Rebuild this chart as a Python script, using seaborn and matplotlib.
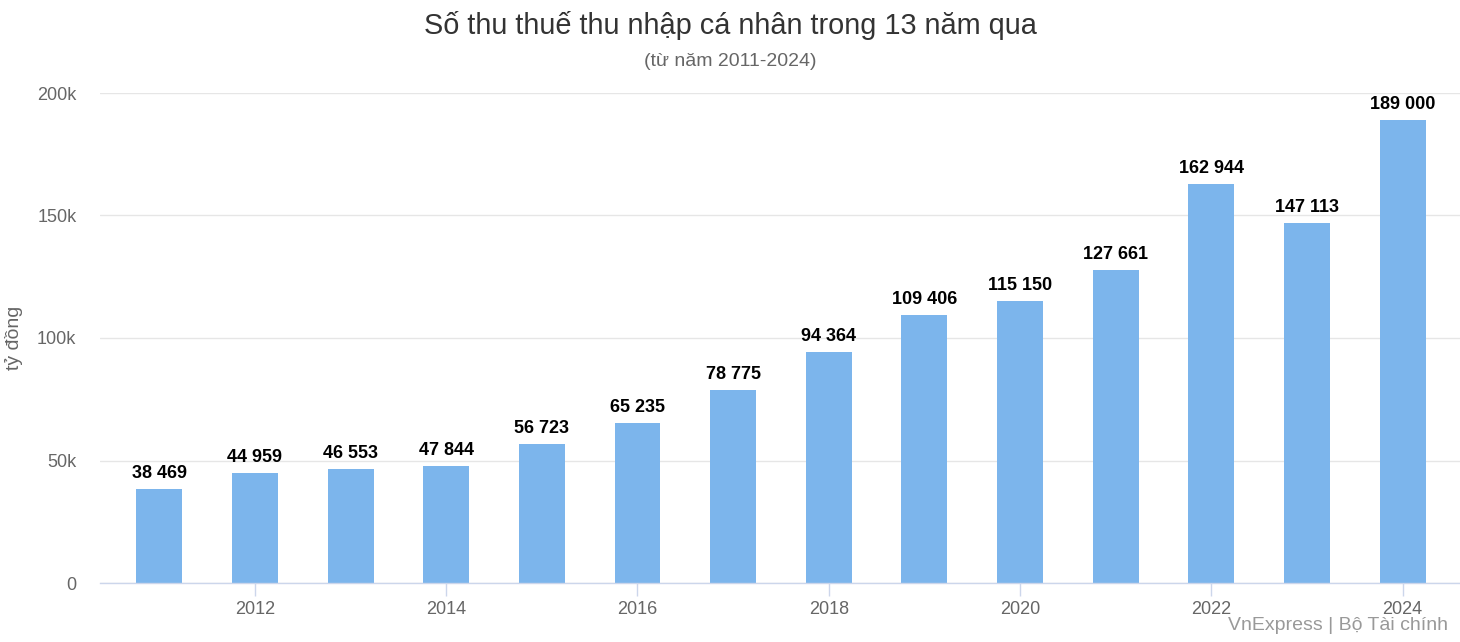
import matplotlib
matplotlib.use("Agg")
import matplotlib.pyplot as plt
import seaborn as sns
import pandas as pd

# Du lieu: so thu thue TNCN (ty dong)
years = [2011, 2012, 2013, 2014, 2015, 2016, 2017, 2018, 2019, 2020, 2021, 2022, 2023, 2024]
values = [38469, 44959, 46553, 47844, 56723, 65235, 78775, 94364,
          109406, 115150, 127661, 162944, 147113, 189000]
labels = ["38 469", "44 959", "46 553", "47 844", "56 723", "65 235", "78 775",
          "94 364", "109 406", "115 150", "127 661", "162 944", "147 113", "189 000"]
y_ticks = [0, 50000, 100000, 150000, 200000]
y_ticklabels = ["0", "50k", "100k", "150k", "200k"]
x_ticks = [2012, 2014, 2016, 2018, 2020, 2022, 2024]

df = pd.DataFrame({"year": years, "value": values})

sns.set_theme(style="white")
plt.rcParams["font.family"] = ["Liberation Sans", "DejaVu Sans"]

fig = plt.figure(figsize=(14.6, 6.42), dpi=100)
ax = fig.add_axes([100 / 1460, 1 - 583 / 642, 1360 / 1460, 490 / 642])

sns.barplot(data=df, x="year", y="value", native_scale=True, width=0.48,
            color="#7cb5ec", saturation=1, linewidth=0, ax=ax)

for yr, v, lab in zip(years, values, labels):
    ax.annotate(lab, (yr, v), xytext=(0, 5), textcoords="offset points",
                ha="center", va="bottom", fontsize=13, fontweight="bold", color="#000000")

ax.set_xlim(2010.38, 2024.6)
ax.set_ylim(0, 200000)
ax.set_yticks(y_ticks)
ax.set_yticklabels(y_ticklabels)
ax.set_xticks(x_ticks)
ax.set_xticklabels([str(x) for x in x_ticks])
ax.tick_params(axis="y", length=0, labelsize=13, labelcolor="#666666", pad=17)
ax.tick_params(axis="x", length=9, width=1, color="#ccd6eb", labelsize=13,
               labelcolor="#666666", pad=4, direction="out", bottom=True)
ax.grid(axis="y", color="#e6e6e6", linewidth=1)
ax.set_axisbelow(True)
for s in ["top", "right", "left"]:
    ax.spines[s].set_visible(False)
ax.spines["bottom"].set_color("#ccd6eb")
ax.spines["bottom"].set_linewidth(1)
ax.set_xlabel("")
ax.set_ylabel("tỷ đồng", fontsize=14, color="#666666")
ax.yaxis.set_label_coords(-77 / 1360, 0.5)

fig.text(0.5, 1 - 26 / 642, "Số thu thuế thu nhập cá nhân trong 13 năm qua",
         ha="center", va="center", fontsize=20.8, color="#333333")
fig.text(0.5, 1 - 62 / 642, "(từ năm 2011-2024)", ha="center", va="center",
         fontsize=14, color="#666666")
fig.text(1448 / 1460, 1 - 626 / 642, "VnExpress | Bộ Tài chính", ha="right",
         va="center", fontsize=14, color="#999999")

fig.savefig("out.png", dpi=100)
